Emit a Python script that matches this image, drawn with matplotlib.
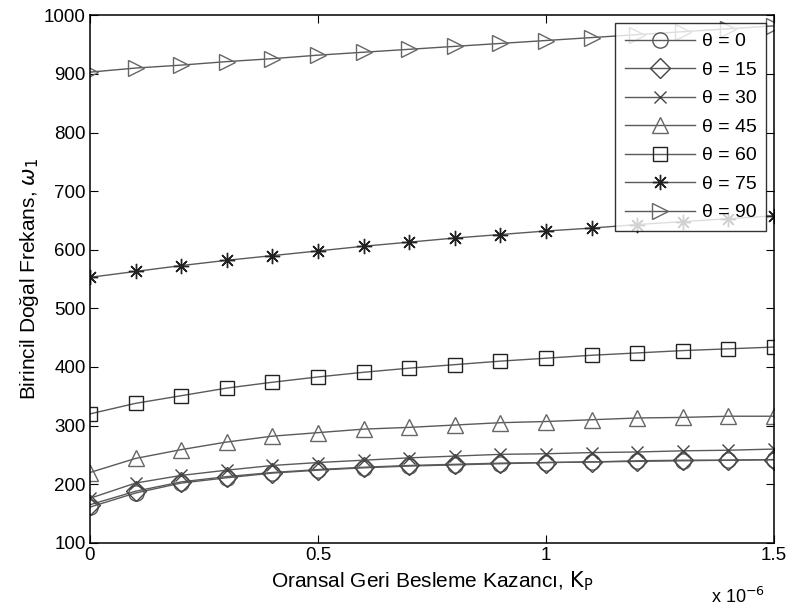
import matplotlib
matplotlib.use('Agg')
from matplotlib import pyplot as plt

plt.rcParams['font.family'] = ['Liberation Sans', 'DejaVu Sans']

# kazanc, x 1e-6
kp = [0.0, 0.1, 0.2, 0.3, 0.4, 0.5, 0.6, 0.7, 0.8, 0.9, 1.0, 1.1, 1.2, 1.3, 1.4, 1.5]

theta_labels = ['θ = 0', 'θ = 15', 'θ = 30', 'θ = 45', 'θ = 60', 'θ = 75', 'θ = 90']

w_0 = [161, 185, 202, 211, 219, 224, 228, 231, 233, 235, 237, 238, 239, 240, 241, 242]
w_15 = [165, 188, 204, 213, 220, 225, 229, 232, 234, 236, 237, 238, 240, 241, 241, 242]
w_30 = [176, 202, 215, 224, 232, 237, 241, 245, 248, 251, 252, 254, 255, 257, 258, 260]
w_45 = [220, 244, 259, 272, 282, 288, 294, 297, 301, 305, 307, 310, 313, 314, 316, 316]
w_60 = [320, 338, 351, 364, 374, 383, 391, 398, 404, 410, 415, 420, 424, 428, 431, 434]
w_75 = [553, 563, 573, 582, 590, 598, 606, 613, 620, 626, 632, 637, 643, 648, 653, 658]
w_90 = [903, 910, 915, 921, 926, 932, 937, 942, 947, 952, 957, 962, 967, 972, 977, 982]

series = [w_0, w_15, w_30, w_45, w_60, w_75, w_90]

# marker, size, edge colour
styles = [
    ('o', 11, '#555555'),
    ('D', 10, '#444444'),
    ('x', 8, '#444444'),
    ('^', 11, '#666666'),
    ('s', 9.5, '#222222'),
    ((8, 2, 0), 11, '#222222'),
    ('>', 11, '#666666'),
]

fig = plt.figure(figsize=(7.89, 6.12), dpi=100)
ax = fig.add_axes([0.114, 0.113, 0.867, 0.862])

for w, (m, ms, ec), lab in zip(series, styles, theta_labels):
    ax.plot(kp, w, color='#5a5a5a', lw=1.0, marker=m, markersize=ms,
            markerfacecolor='none', markeredgecolor=ec, markeredgewidth=1.0,
            label=lab)

ax.set_xlim(0, 1.5)
ax.set_ylim(100, 1000)
ax.set_xticks([0, 0.5, 1, 1.5])
ax.set_xticklabels(['0', '0.5', '1', '1.5'])
ax.set_yticks(range(100, 1001, 100))
ax.tick_params(direction='in', top=True, right=True, labelsize=13.5, length=6, pad=3)
for sp in ax.spines.values():
    sp.set_linewidth(1.1)

ax.set_xlabel('Oransal Geri Besleme Kazancı, $\\mathrm{K_P}$', fontsize=15, labelpad=4)
ax.set_ylabel('Birincil Doğal Frekans, $\\omega_1$', fontsize=15, labelpad=2)
fig.text(0.97, 0.015, 'x 10$^{-6}$', fontsize=13, ha='right')

leg = ax.legend(loc='upper right', fontsize=14, frameon=True, fancybox=False,
                edgecolor='black', handlelength=3.6, borderaxespad=0.4,
                labelspacing=0.56, handletextpad=0.35, borderpad=0.5)
leg.get_frame().set_linewidth(1.0)

fig.savefig('out.png', dpi=100)
